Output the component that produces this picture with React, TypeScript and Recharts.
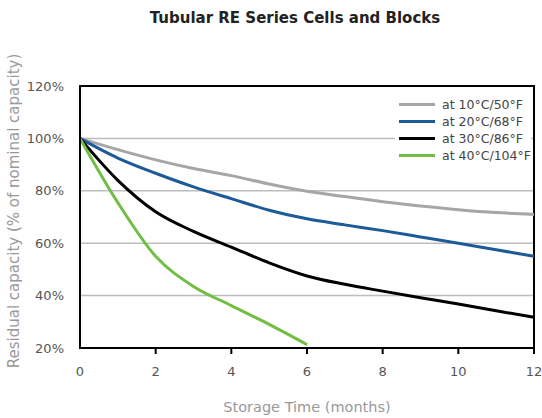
import React from "react"
import {
  LineChart,
  Line,
  XAxis,
  YAxis,
  CartesianGrid,
  ReferenceArea,
} from "recharts"

const months = [0, 1, 2, 3, 4, 5, 6, 7, 8, 9, 10, 11, 12]
const at10C = [100, 95.7, 91.8, 88.5, 85.8, 82.6, 79.8, 77.8, 75.8, 74.2, 72.8, 71.7, 71]
const at20C = [100, 92.5, 86.7, 81.5, 77, 72.6, 69.3, 67, 64.8, 62.4, 60, 57.5, 55]
const at30C = [100, 84, 72, 64.5, 58.5, 52.5, 47.5, 44.3, 41.7, 39.2, 36.8, 34.2, 31.7]
const at40C = [100, 75.5, 55, 43.5, 36.2, 29, 21.3, null, null, null, null, null, null]

const xTicks = [0, 2, 4, 6, 8, 10, 12]
const yTicks = [20, 40, 60, 80, 100, 120]

const seriesList = [
  { key: "c10", name: "at 10°C/50°F", color: "#a6a6a8", values: at10C },
  { key: "c20", name: "at 20°C/68°F", color: "#1d5b98", values: at20C },
  { key: "c30", name: "at 30°C/86°F", color: "#000000", values: at30C },
  { key: "c40", name: "at 40°C/104°F", color: "#72be44", values: at40C },
]

const data = months.map((m, i) => {
  const row: Record<string, number | null> = { month: m }
  seriesList.forEach((s) => {
    row[s.key] = s.values[i]
  })
  return row
})

const font = "'DejaVu Sans', sans-serif"
const TICK_LEN = 6
const TICK_GAP = 12

// draws the little tick mark under the axis together with the label
// (recharts passes y = axis + tickSize + tickMargin)
function MonthTick(props: any) {
  const { x, y, payload } = props
  const axisY = y - TICK_LEN - TICK_GAP
  return (
    <g>
      {payload.value !== 0 && (
        <line x1={x} x2={x} y1={axisY} y2={axisY + TICK_LEN} stroke="#000" strokeWidth={2} />
      )}
      <text x={x} y={axisY + 19} dy="0.71em" textAnchor="middle" fill="#555" fontSize={13} fontFamily={font}>
        {payload.value}
      </text>
    </g>
  )
}

export default function App() {
  return (
    <div style={{ position: "relative", width: 542, height: 418, fontFamily: font, background: "#fff" }}>
      <style>{"body{margin:0}"}</style>
      <div
        style={{
          position: "absolute",
          top: 9,
          left: 95,
          width: 400,
          textAlign: "center",
          fontSize: 15,
          fontWeight: "bold",
          color: "#222",
        }}
      >
        Tubular RE Series Cells and Blocks
      </div>
      <LineChart
        width={542}
        height={418}
        data={data}
        margin={{ top: 86, right: 8, bottom: 0, left: 0 }}
      >
        <CartesianGrid vertical={false} stroke="#bdbdbd" strokeWidth={1.5} />
        <XAxis
          dataKey="month"
          type="number"
          domain={[0, 12]}
          ticks={xTicks}
          height={70}
          axisLine={{ stroke: "#000", strokeWidth: 2 }}
          tickLine={false}
          tickSize={TICK_LEN}
          tickMargin={TICK_GAP}
          tick={<MonthTick />}
          label={{
            value: "Storage Time (months)",
            position: "insideBottom",
            offset: 6,
            fill: "#999",
            fontSize: 14.5,
            fontFamily: font,
          }}
        />
        <YAxis
          type="number"
          domain={[20, 120]}
          ticks={yTicks}
          width={80}
          axisLine={{ stroke: "#000", strokeWidth: 2 }}
          tickLine={false}
          tick={{ fill: "#555", fontSize: 13, fontFamily: font }}
          tickMargin={10}
          tickFormatter={(v: number) => `${v}%`}
          label={{
            value: "Residual capacity (% of nominal capacity)",
            angle: -90,
            position: "insideLeft",
            offset: 14,
            dy: -6,
            fill: "#999",
            fontSize: 15,
            fontFamily: font,
            style: { textAnchor: "middle" },
          }}
        />
        <ReferenceArea
          x1={0}
          x2={12}
          y1={20}
          y2={120}
          fill="none"
          stroke="#000"
          strokeWidth={2}
        />
        {seriesList.map((s) => (
          <Line
            key={s.key}
            dataKey={s.key}
            name={s.name}
            type="monotone"
            stroke={s.color}
            strokeWidth={3}
            dot={false}
            activeDot={false}
            connectNulls={false}
            isAnimationActive={false}
          />
        ))}
      </LineChart>
      <div
        style={{
          position: "absolute",
          top: 96,
          left: 395,
          width: 136,
          background: "#fff",
        }}
      >
        {seriesList.map((s) => (
          <div
            key={s.key}
            style={{ display: "flex", alignItems: "center", height: 17, fontSize: 12.5, color: "#444" }}
          >
            <span style={{ display: "inline-block", width: 36, height: 3, marginLeft: 4, marginRight: 7, background: s.color }} />
            {s.name}
          </div>
        ))}
      </div>
    </div>
  )
}
